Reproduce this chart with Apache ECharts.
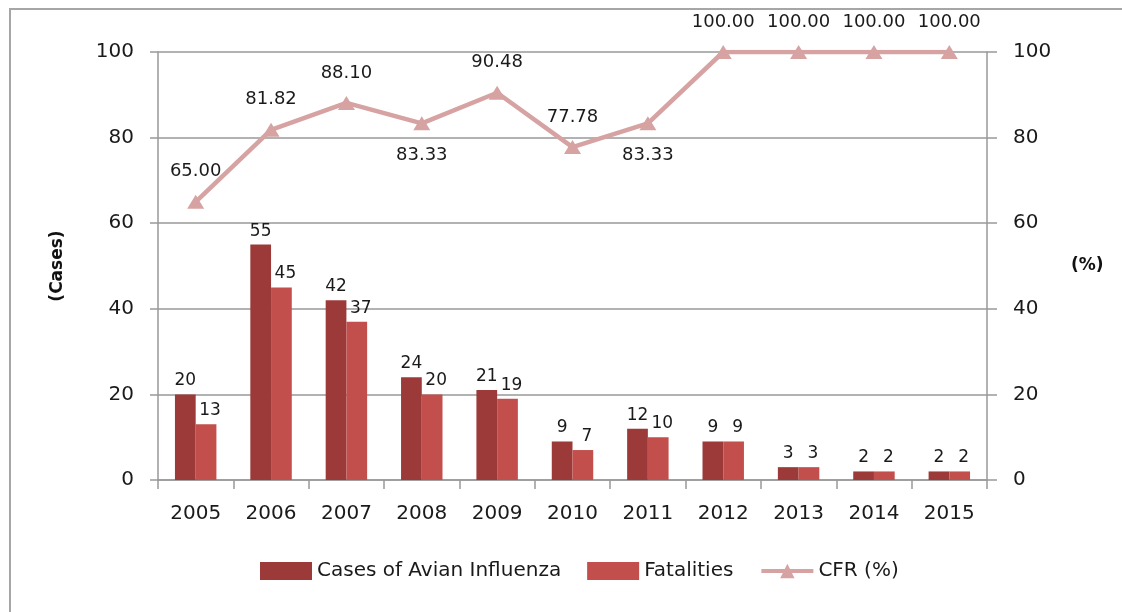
<!DOCTYPE html>
<html>
<head>
<meta charset="utf-8">
<script src="https://cdn.jsdelivr.net/npm/echarts@6/dist/echarts.min.js"></script>
<style>
html,body{margin:0;padding:0;background:#fff;}
#chart{width:1122px;height:612px;}
</style>
</head>
<body>
<div id="chart"></div>
<script>
var years = ['2005','2006','2007','2008','2009','2010','2011','2012','2013','2014','2015'];
var cases = [20, 55, 42, 24, 21, 9, 12, 9, 3, 2, 2];
var fatalities = [13, 45, 37, 20, 19, 7, 10, 9, 3, 2, 2];
var cfr = [65.00, 81.82, 88.10, 83.33, 90.48, 77.78, 83.33, 100.00, 100.00, 100.00, 100.00];
var axisTicks = [0, 20, 40, 60, 80, 100];

var labelsBelow = {'2008': true, '2011': true};
var cfrData = cfr.map(function (v, i) {
  var item = { value: v };
  if (labelsBelow[years[i]]) {
    item.label = { position: 'bottom', distance: 16 };
  }
  return item;
});

var font = 'DejaVu Sans';
var gridColor = '#999999';
var txt = '#1a1a1a';
var chart = echarts.init(document.getElementById('chart'));
var option = {
  animation: false,
  backgroundColor: '#ffffff',
  textStyle: { fontFamily: font },
  graphic: [{
    type: 'rect',
    shape: { x: 10, y: 9, width: 1200, height: 700 },
    style: { fill: 'none', stroke: '#a6a6a6', lineWidth: 2 },
    silent: true
  }],
  grid: { left: 158, right: 135, top: 52, bottom: 132 },
  legend: {
    left: 255, top: 556,
    itemWidth: 52, itemHeight: 18, itemGap: 26,
    textStyle: { fontFamily: font, fontSize: 20, color: txt },
    data: [
      { name: 'Cases of Avian Influenza', icon: 'rect' },
      { name: 'Fatalities', icon: 'rect' },
      { name: 'CFR (%)', lineStyle: { width: 4 } }
    ]
  },
  xAxis: {
    type: 'category',
    data: years,
    boundaryGap: true,
    axisLine: { lineStyle: { color: gridColor, width: 1.5 } },
    axisTick: { show: true, length: 9, lineStyle: { color: gridColor, width: 1.5 } },
    axisLabel: { fontSize: 20, color: txt, margin: 24, fontFamily: font }
  },
  yAxis: [{
    type: 'value', min: axisTicks[0], max: axisTicks[axisTicks.length - 1], interval: 20,
    name: '(Cases)', nameLocation: 'middle', nameGap: 92, nameRotate: 90,
    nameTextStyle: { fontFamily: font, fontSize: 17, fontWeight: 'bold', color: '#111' },
    axisLine: { show: true, lineStyle: { color: gridColor, width: 1.5 } },
    axisTick: { show: true, length: 8, lineStyle: { color: gridColor, width: 1.5 } },
    axisLabel: { fontSize: 20, color: txt, margin: 24, fontFamily: font },
    splitLine: { show: true, lineStyle: { color: gridColor, width: 1.5 } }
  }, {
    type: 'value', min: axisTicks[0], max: axisTicks[axisTicks.length - 1], interval: 20,
    position: 'right',
    name: '(%)', nameLocation: 'middle', nameGap: 84, nameRotate: 0,
    nameTextStyle: { fontFamily: font, fontSize: 17, fontWeight: 'bold', color: '#111' },
    axisLine: { show: true, lineStyle: { color: gridColor, width: 1.5 } },
    axisTick: { show: true, length: 10, lineStyle: { color: gridColor, width: 1.5 } },
    axisLabel: { fontSize: 20, color: txt, margin: 26, fontFamily: font },
    splitLine: { show: false }
  }],
  series: [{
    name: 'Cases of Avian Influenza',
    type: 'bar',
    data: cases,
    barGap: '0%',
    barCategoryGap: '45%',
    itemStyle: { color: '#9b3a38' },
    label: { show: true, position: 'top', distance: 5, fontSize: 17, color: txt, fontFamily: font }
  }, {
    name: 'Fatalities',
    type: 'bar',
    data: fatalities,
    itemStyle: { color: '#c24f4c' },
    label: { show: true, position: 'top', distance: 5, offset: [4, 0], fontSize: 17, color: txt, fontFamily: font }
  }, {
    name: 'CFR (%)',
    type: 'line',
    yAxisIndex: 1,
    data: cfrData,
    z: 5,
    symbol: 'triangle',
    symbolSize: [17, 14],
    lineStyle: { color: '#d6a2a2', width: 4.5 },
    itemStyle: { color: '#d6a2a2' },
    label: {
      show: true, position: 'top', distance: 14, fontSize: 18, color: txt, fontFamily: font,
      formatter: function (p) { return p.value.toFixed(2); }
    }
  }]
};
chart.setOption(option);
</script>
</body>
</html>
